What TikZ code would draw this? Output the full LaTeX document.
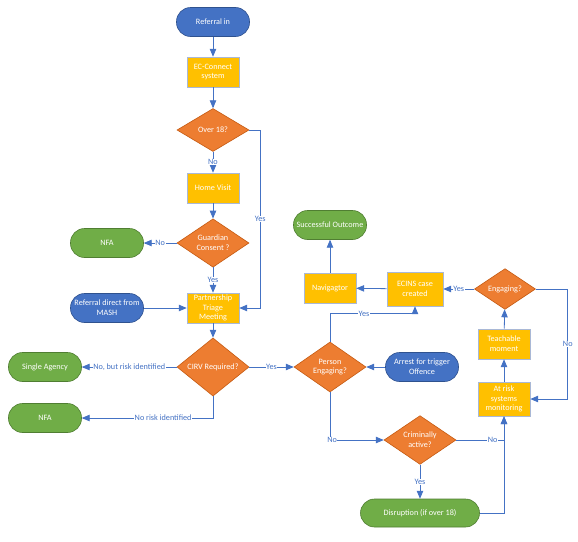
\documentclass[tikz,border=0pt]{standalone}
\usepackage{fontspec}
\setmainfont{Carlito}
\usepackage{tikz}
\usetikzlibrary{arrows,shapes.geometric}

\definecolor{blueF}{HTML}{4472C4}
\definecolor{blueD}{HTML}{2F528F}
\definecolor{orangeF}{HTML}{ED7D31}
\definecolor{orangeD}{HTML}{C55A11}
\definecolor{yellowF}{HTML}{FFC000}
\definecolor{yellowD}{HTML}{A9B8D6}
\definecolor{greenF}{HTML}{70AD47}
\definecolor{greenD}{HTML}{507E32}

\begin{document}
\begin{tikzpicture}[->,>=triangle 45,x=1pt,y=-1pt,line width=0.8pt,
  draw=blueF,font=\fontsize{8.2}{9.7}\selectfont]
  \tikzstyle{terminal}=[rectangle,rounded corners=14pt,minimum width=73pt,
    minimum height=29pt,inner sep=1pt,align=center,text=white,line width=0.6pt]
  \tikzstyle{startstop}=[terminal,fill=blueF,draw=blueD]
  \tikzstyle{outcome}=[terminal,fill=greenF,draw=greenD]
  \tikzstyle{process}=[rectangle,minimum width=52pt,minimum height=30pt,
    inner sep=0.5pt,align=center,text=white,fill=yellowF,draw=yellowD,line width=0.6pt]
  \tikzstyle{decision}=[diamond,minimum width=72pt,minimum height=43pt,
    inner sep=0pt,align=center,text=white,fill=orangeF,draw=orangeD,line width=0.6pt]
  \tikzstyle{answer}=[fill=white,inner sep=0.5pt,text=blueF]

  \useasboundingbox (0,0) rectangle (578,541);

  \node[startstop] (refin)   at (213,22)  {Referral in};
  \node[process]   (ecc)     at (213,72)  {EC-Connect\\system};
  \node[decision]  (over18)  at (213,130) {Over 18?};
  \node[process]   (home)    at (213,188) {Home Visit};
  \node[decision]  (guard)   at (213,243) {Guardian\\Consent ?};
  \node[outcome]   (nfaA)    at (107,243) {NFA};
  \node[process]   (ptm)     at (213,308) {Partnership\\Triage\\Meeting};
  \node[startstop] (mash)    at (107,308) {Referral direct from\\MASH};
  \node[decision]  (cirv)    at (213,367) {CIRV Required?};
  \node[outcome]   (single)  at (45,367)  {Single Agency};
  \node[outcome]   (nfaB)    at (45,418)  {NFA};
  \node[decision]  (person)  at (330,367) {Person\\Engaging?};
  \node[startstop] (arrest)  at (422,367) {Arrest for trigger\\Offence};
  \node[decision]  (crim)    at (420,440) {Criminally\\active?};
  \node[outcome,minimum width=119pt,minimum height=28pt]
                   (disr)    at (420,513) {Disruption (if over 18)};
  \node[process,minimum height=34pt] (atrisk) at (504,399) {At risk\\systems\\monitoring};
  \node[process]   (teach)   at (504,344) {Teachable\\moment};
  \node[decision,minimum width=61pt,minimum height=37pt]
                   (engage)  at (505,289) {Engaging?};
  \node[process,minimum width=56pt,minimum height=34pt]
                   (ecins)   at (415,289) {ECINS case\\created};
  \node[process]   (navi)    at (330,288) {Navigagtor};
  \node[outcome]   (success) at (330,225) {Successful Outcome};

  \path[draw=blueF] (refin) edge (ecc)
        (ecc) edge (over18)
        (over18) edge node[answer] {No} (home)
        (home) edge (guard)
        (guard) edge node[answer] {No} (nfaA)
        (guard) edge node[answer] {Yes} (ptm)
        (mash) edge (ptm)
        (ptm) edge (cirv)
        (cirv) edge node[answer] {No, but risk identified} (single)
        (cirv) edge node[answer] {Yes} (person)
        (arrest) edge (person)
        (crim) edge node[answer] {Yes} (disr)
        (atrisk) edge (teach)
        (teach) edge (engage)
        (engage) edge node[answer] {Yes} (ecins)
        (ecins) edge (navi)
        (navi) edge (success)
        ;

  \draw[blueF] (over18.east) -- ++(11,0) |- node[answer,pos=0.25] {Yes} (ptm.east);
  \draw[blueF] (cirv.south) |- node[answer,pos=0.69] {No risk identified} (nfaB.east);
  \draw[blueF] (person.north) -- ++(0,-28) -| node[answer,pos=0.2] {Yes} (ecins.south);
  \draw[blueF] (person.south) |- node[answer,pos=0.52] {No} (crim.west);
  \draw[blueF] (crim.east) -| node[answer,pos=0.38] {No} (atrisk.south);
  \draw[blueF] (disr.east) -| (atrisk.south);
  \draw[blueF] (engage.east) -- ++(32,0) |- node[answer,pos=0.25] {No} (atrisk.east);
\end{tikzpicture}
\end{document}
